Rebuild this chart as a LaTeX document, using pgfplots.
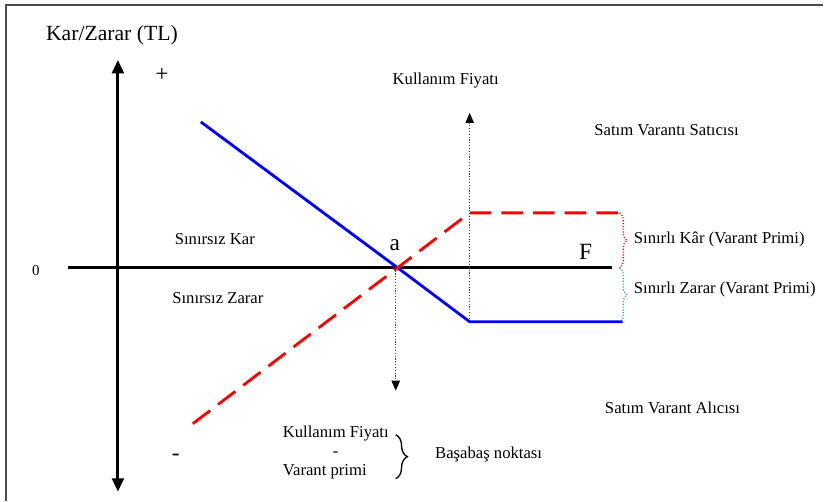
\documentclass[border=0pt]{standalone}
\usepackage{pgfplots}
\pgfplotsset{compat=1.18}
\usepackage{fontspec}
\setmainfont{Liberation Serif}
\usetikzlibrary{arrows.meta,decorations.pathreplacing}
\definecolor{sellred}{RGB}{255,0,0}
\definecolor{buyblue}{RGB}{0,0,255}
\definecolor{bracecyan}{RGB}{60,140,215}
\begin{document}
\begin{tikzpicture}
\begin{axis}[
  scale only axis, width=494.4pt, height=300.6pt,
  xmin=0, xmax=824, ymin=0, ymax=501, y dir=reverse,
  hide axis, clip=false,
]
\path (axis cs:0,0) rectangle (axis cs:824,501);
% frame (left and top edges)
\addplot[gray!60!black, line width=0.7pt] coordinates {(6,501) (6,5) (824,5)};
% axes
\addplot[black, line width=1.8pt] coordinates {(68,268) (612,268)};
\addplot[black, line width=1.8pt, {Triangle[width=7pt,length=8pt]}-{Triangle[width=7pt,length=8pt]}]
  coordinates {(118,60) (118,492)};
% strike-price guides
\addplot[black!75, densely dotted, line width=0.7pt, -{Triangle[width=5pt,length=6pt,black]}]
  coordinates {(470,322) (470,113)};
\addplot[black!75, densely dotted, line width=0.7pt, -{Triangle[width=5pt,length=6pt,black]}]
  coordinates {(396,268) (396,391)};
% buyer (blue) and seller (red dashed) payoffs
\addplot[buyblue, line width=1.7pt] coordinates {(201,122) (398,268) (470,322) (623,322)};
\addplot[sellred, line width=1.7pt, dash pattern=on 13pt off 6pt] coordinates {(193,424) (470,213) (623,213)};
% braces
\draw[sellred, densely dotted, line width=0.7pt, decorate, decoration={brace, amplitude=4.5pt}]
  (axis cs:620,213) -- (axis cs:620,268);
\draw[bracecyan, densely dotted, line width=0.7pt, decorate, decoration={brace, amplitude=4.5pt}]
  (axis cs:620,268) -- (axis cs:620,322);
\draw[black, line width=0.8pt, decorate, decoration={brace, amplitude=7pt}]
  (axis cs:396,435) -- (axis cs:396,479);
% texts
\node[font=\fontsize{13}{15}\selectfont] at (axis cs:112,35) {Kar/Zarar (TL)};
\node[font=\fontsize{14}{16}\selectfont] at (axis cs:162,75) {+};
\node[font=\fontsize{14}{16}\selectfont] at (axis cs:176,458) {-};
\node[font=\fontsize{9}{11}\selectfont] at (axis cs:36,271) {0};
\node[font=\fontsize{10}{12}\selectfont] at (axis cs:446,81) {Kullanım Fiyatı};
\node[font=\fontsize{10}{12}\selectfont] at (axis cs:667,130) {Satım Varantı Satıcısı};
\node[font=\fontsize{10}{12}\selectfont] at (axis cs:673,408) {Satım Varant Alıcısı};
\node[font=\fontsize{10}{12}\selectfont] at (axis cs:215,239) {Sınırsız Kar};
\node[font=\fontsize{10}{12}\selectfont] at (axis cs:218,298) {Sınırsız Zarar};
\node[font=\fontsize{14}{16}\selectfont] at (axis cs:395,245) {a};
\node[font=\fontsize{14}{16}\selectfont] at (axis cs:586,252) {F};
\node[font=\fontsize{10}{12}\selectfont, anchor=west, inner sep=0pt] at (axis cs:634,240) {Sınırlı Kâr (Varant Primi)};
\node[font=\fontsize{10}{12}\selectfont, anchor=west, inner sep=0pt] at (axis cs:634,290) {Sınırlı Zarar (Varant Primi)};
\node[font=\fontsize{10}{12}\selectfont] at (axis cs:336,434) {Kullanım Fiyatı};
\node[font=\fontsize{10}{12}\selectfont] at (axis cs:336,455) {-};
\node[font=\fontsize{10}{12}\selectfont] at (axis cs:325,472) {Varant primi};
\node[font=\fontsize{10}{12}\selectfont] at (axis cs:489,455) {Başabaş noktası};
\end{axis}
\end{tikzpicture}
\end{document}
